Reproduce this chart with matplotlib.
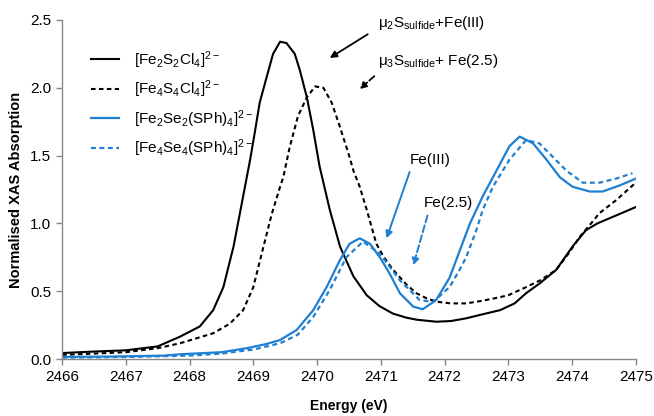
import matplotlib
matplotlib.use("Agg")
import matplotlib.pyplot as plt

plt.rcParams['font.family'] = ['Liberation Sans', 'DejaVu Sans']
plt.rcParams['mathtext.default'] = 'regular'

# ---------------- data ----------------
e_fe2s2 = [2466, 2466.5, 2467, 2467.5, 2467.85, 2468.16, 2468.37, 2468.53, 2468.69, 2468.82,
           2468.95, 2469.03, 2469.10, 2469.21, 2469.31, 2469.42, 2469.52, 2469.65,
           2469.73, 2469.84, 2469.94, 2470.04, 2470.2, 2470.36, 2470.57, 2470.78, 2470.98,
           2471.19, 2471.4, 2471.56, 2471.87, 2472.1, 2472.34, 2472.6, 2472.87, 2473.1,
           2473.28, 2473.5, 2473.75, 2474.01, 2474.22, 2474.4, 2474.6, 2474.8, 2475.0]
v_fe2s2 = [0.044, 0.055, 0.064, 0.093, 0.165, 0.24, 0.36, 0.53, 0.83, 1.15,
           1.47, 1.69, 1.89, 2.08, 2.25, 2.34, 2.33, 2.25,
           2.13, 1.93, 1.69, 1.42, 1.10, 0.83, 0.61, 0.47, 0.39,
           0.335, 0.305, 0.29, 0.275, 0.28, 0.30, 0.33, 0.36, 0.41,
           0.485, 0.56, 0.656, 0.83, 0.95, 1.00, 1.04, 1.08, 1.12]

e_fe4s4 = [2466, 2466.5, 2467, 2467.5, 2467.85, 2468.37, 2468.63, 2468.84, 2469.0, 2469.16,
           2469.29, 2469.42, 2469.47, 2469.57, 2469.70, 2469.84, 2469.97, 2470.10, 2470.23,
           2470.36, 2470.49, 2470.57, 2470.67, 2470.78, 2470.93, 2471.05, 2471.19, 2471.4,
           2471.56, 2471.75, 2471.92, 2472.1, 2472.34, 2472.6, 2472.81, 2473.0, 2473.28,
           2473.5, 2473.75, 2473.95, 2474.12, 2474.3, 2474.43, 2474.69, 2475.0]
v_fe4s4 = [0.03, 0.04, 0.05, 0.08, 0.116, 0.19, 0.26, 0.36, 0.53, 0.83,
           1.07, 1.27, 1.34, 1.56, 1.79, 1.93, 2.01, 2.00, 1.89,
           1.71, 1.52, 1.39, 1.27, 1.10, 0.85, 0.75, 0.66, 0.55,
           0.485, 0.44, 0.42, 0.41, 0.41, 0.43, 0.45, 0.47, 0.53,
           0.58, 0.656, 0.78, 0.90, 1.00, 1.075, 1.17, 1.30]

e_fe2se2 = [2466, 2466.7, 2467, 2467.6, 2467.85, 2468.5, 2468.89, 2469.2, 2469.42, 2469.68,
            2469.94, 2470.15, 2470.36, 2470.51, 2470.67, 2470.83, 2471.0, 2471.15, 2471.3,
            2471.51, 2471.66, 2471.87, 2472.08, 2472.24, 2472.4, 2472.6, 2472.76, 2473.02,
            2473.18, 2473.39, 2473.6, 2473.81, 2474.01, 2474.28, 2474.48, 2474.75, 2475.0]
v_fe2se2 = [0.015, 0.018, 0.02, 0.025, 0.035, 0.05, 0.079, 0.11, 0.14, 0.214,
            0.36, 0.53, 0.73, 0.85, 0.89, 0.85, 0.74, 0.62, 0.485,
            0.386, 0.367, 0.435, 0.60, 0.80, 1.00, 1.20, 1.34, 1.57,
            1.64, 1.59, 1.47, 1.34, 1.27, 1.235, 1.235, 1.28, 1.33]

e_fe4se4 = [2466, 2467, 2468, 2468.5, 2469, 2469.42, 2469.7, 2469.94, 2470.2, 2470.46,
            2470.72, 2470.98, 2471.3, 2471.61, 2471.82, 2472.08, 2472.24, 2472.34, 2472.5,
            2472.6, 2472.76, 2473.02, 2473.28, 2473.49, 2473.7, 2473.91, 2474.17, 2474.43,
            2474.69, 2474.95]
v_fe4se4 = [0.01, 0.015, 0.025, 0.04, 0.07, 0.116, 0.18, 0.31, 0.51, 0.75,
            0.865, 0.78, 0.58, 0.435, 0.42, 0.53, 0.66, 0.75, 0.95,
            1.10, 1.27, 1.47, 1.615, 1.59, 1.49, 1.39, 1.30, 1.30,
            1.33, 1.37]

labels = [r'[Fe$_2$S$_2$Cl$_4$]$^{2-}$', r'[Fe$_4$S$_4$Cl$_4$]$^{2-}$',
          r'[Fe$_2$Se$_2$(SPh)$_4$]$^{2-}$', r'[Fe$_4$Se$_4$(SPh)$_4$]$^{2-}$']
x_ticks = [2466, 2467, 2468, 2469, 2470, 2471, 2472, 2473, 2474, 2475]
y_ticks = [0.0, 0.5, 1.0, 1.5, 2.0, 2.5]

# ---------------- figure ----------------
BLUE = '#1f7fd0'
fig = plt.figure(figsize=(6.54, 4.16), dpi=100)
ax = fig.add_axes([0.095, 0.137, 0.877, 0.815])

dash = (0, (2.2, 1.6))
common = dict(solid_joinstyle='round', dash_joinstyle='round')
ax.plot(e_fe2s2, v_fe2s2, color='black', lw=1.5, label=labels[0], **common)
ax.plot(e_fe4s4, v_fe4s4, color='black', lw=1.5, ls=dash, label=labels[1], **common)
ax.plot(e_fe2se2, v_fe2se2, color=BLUE, lw=1.6, label=labels[2], **common)
ax.plot(e_fe4se4, v_fe4se4, color=BLUE, lw=1.6, ls=dash, label=labels[3], **common)

ax.set_xlim(2466, 2475)
ax.set_ylim(0, 2.5)
ax.set_xticks(x_ticks)
ax.set_xticklabels([str(t) for t in x_ticks])
ax.set_yticks(y_ticks)
ax.set_yticklabels([f'{t:.1f}' for t in y_ticks])
for s in ['top', 'right']:
    ax.spines[s].set_visible(False)
for s in ['left', 'bottom']:
    ax.spines[s].set_color('#888888')
    ax.spines[s].set_linewidth(1.0)
ax.tick_params(axis='both', direction='out', length=4, width=1.0, color='#888888',
               labelsize=11, pad=4)
ax.set_xlabel('Energy (eV)', fontsize=10, fontweight='bold', labelpad=11)
ax.set_ylabel('Normalised XAS Absorption', fontsize=10.5, fontweight='bold', labelpad=5)

leg = ax.legend(loc='upper left', bbox_to_anchor=(0.027, 0.955), frameon=False,
                fontsize=11, handlelength=1.8, handletextpad=1.0, labelspacing=0.52)

# ---------------- annotations ----------------
ax.annotate(r'$\mu_2$S$_{sulfide}$+Fe(III)', xy=(2470.20, 2.22), xytext=(2470.95, 2.48),
            fontsize=11, ha='left', va='center',
            arrowprops=dict(arrowstyle='-|>', color='black', lw=1.3, mutation_scale=10,
                            shrinkA=6, shrinkB=0, relpos=(0, 0.2)))
ax.annotate(r'$\mu_3$S$_{sulfide}$+ Fe(2.5)', xy=(2470.67, 1.99), xytext=(2470.95, 2.20),
            fontsize=11, ha='left', va='center',
            arrowprops=dict(arrowstyle='-|>', color='black', lw=1.3, ls='--', mutation_scale=10,
                            shrinkA=4, shrinkB=0, relpos=(0.05, 0.1)))
ax.annotate('Fe(III)', xy=(2471.09, 0.89), xytext=(2471.45, 1.47),
            fontsize=11, ha='left', va='center',
            arrowprops=dict(arrowstyle='-|>', color=BLUE, lw=1.4, mutation_scale=10,
                            shrinkA=2, shrinkB=0, relpos=(0.05, 0.0)))
ax.annotate('Fe(2.5)', xy=(2471.51, 0.69), xytext=(2471.68, 1.15),
            fontsize=11, ha='left', va='center',
            arrowprops=dict(arrowstyle='-|>', color=BLUE, lw=1.4, ls='--', mutation_scale=10,
                            shrinkA=2, shrinkB=0, relpos=(0.1, 0.0)))

fig.savefig('out.png', dpi=100)
